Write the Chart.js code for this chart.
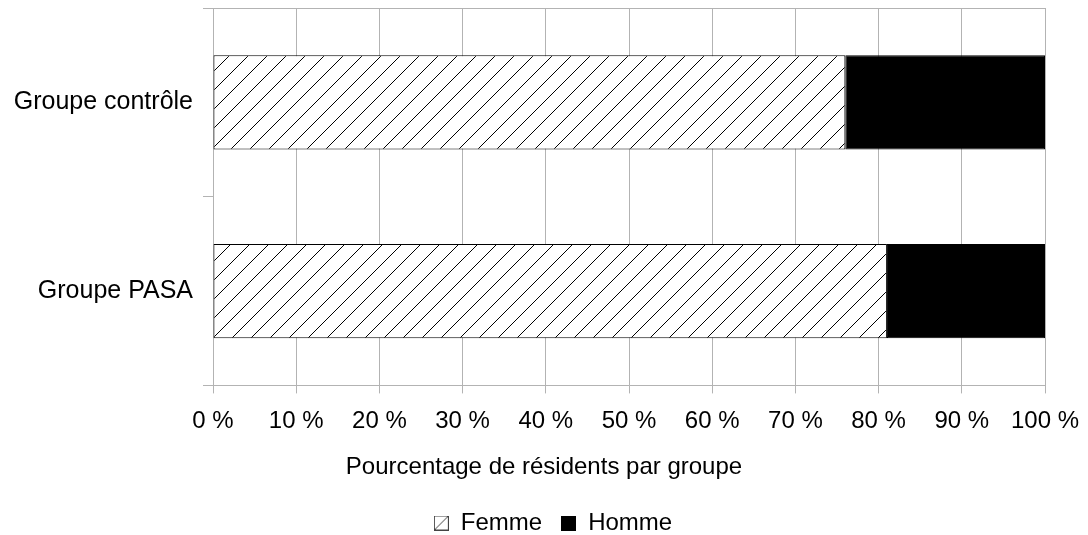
<!DOCTYPE html>
<html>
<head>
<meta charset="utf-8">
<script src="https://cdn.jsdelivr.net/npm/chart.js@4/dist/chart.umd.min.js"></script>
<style>
  html, body { margin: 0; padding: 0; background: #fff; }
  #wrap { width: 1088px; height: 535px; }
</style>
</head>
<body>
<div id="wrap"><canvas id="sexchart"></canvas></div>
<script>
var groups = ["Groupe contrôle", "Groupe PASA"];
var femme = [76, 81];
var homme = [24, 19];
var xTicks = [0, 10, 20, 30, 40, 50, 60, 70, 80, 90, 100];

function hatchPattern(ctx) {
	var c = document.createElement('canvas');
	c.width = 19; c.height = 19;
	var g = c.getContext('2d');
	g.fillStyle = '#fff';
	g.fillRect(0, 0, 19, 19);
	g.strokeStyle = '#000';
	g.lineWidth = 1;
	g.beginPath();
	g.moveTo(0, 19); g.lineTo(19, 0);
	g.moveTo(-2, 2); g.lineTo(2, -2);
	g.moveTo(17, 21); g.lineTo(21, 17);
	g.stroke();
	return ctx.createPattern(c, 'repeat');
}

function legendIcon(hatched) {
	var c = document.createElement('canvas');
	c.width = 15; c.height = 15;
	var g = c.getContext('2d');
	if (hatched) {
		g.fillStyle = '#fff';
		g.fillRect(0, 0, 15, 15);
		g.strokeStyle = '#444';
		g.lineWidth = 1;
		g.strokeRect(0.5, 0.5, 14, 14);
		g.beginPath();
		g.moveTo(1, 14); g.lineTo(14, 1);
		g.stroke();
	} else {
		g.fillStyle = '#000';
		g.fillRect(0, 0, 15, 15);
	}
	return c;
}

// legend sits a bit right of the page centre in the original
var legendShift = {
	id: 'legendShift',
	afterLayout: function(chart) {
		if (chart.legend) {
			chart.legend.left += 9;
			chart.legend.right += 9;
		}
	}
};

var ctx = document.getElementById('sexchart').getContext('2d');
var icons = [legendIcon(true), legendIcon(false)];

var config = {
	type: 'bar',
	data: {
		labels: groups,
		datasets: [
			{
				label: 'Femme',
				data: femme,
				backgroundColor: hatchPattern(ctx),
				borderColor: '#000',
				borderWidth: 1,
				borderSkipped: false
			},
			{
				label: 'Homme',
				data: homme,
				backgroundColor: '#000',
				borderColor: '#000',
				borderWidth: 1,
				borderSkipped: false
			}
		]
	},
	options: {
		indexAxis: 'y',
		responsive: true,
		maintainAspectRatio: false,
		animation: false,
		layout: {
			padding: { top: 8, right: 0, bottom: -10, left: 0 }
		},
		datasets: {
			bar: { barPercentage: 0.5, categoryPercentage: 1 }
		},
		scales: {
			x: {
				stacked: true,
				min: 0,
				max: 100,
				afterBuildTicks: function(scale) {
					scale.ticks = xTicks.map(function(v) { return { value: v }; });
				},
				afterFit: function(scale) { scale.paddingRight = 43; },
				ticks: {
					color: '#000',
					font: { family: 'Liberation Sans', size: 24 },
					padding: 14,
					maxRotation: 0,
					callback: function(v) { return v + ' %'; }
				},
				grid: { color: '#b3b3b3', tickLength: 8 },
				border: { color: '#b3b3b3' }
			},
			y: {
				stacked: true,
				afterFit: function(scale) {
					scale.width = 213;
					scale.paddingTop = 0;
					scale.paddingBottom = 0;
				},
				ticks: {
					color: '#000',
					font: { family: 'Liberation Sans', size: 25 },
					padding: 10
				},
				grid: {
					color: function(c) { return c.index === 1 ? 'rgba(0,0,0,0)' : '#b3b3b3'; },
					tickColor: '#b3b3b3',
					tickLength: 10
				},
				border: { color: '#b3b3b3' }
			}
		},
		plugins: {
			title: {
				display: true,
				position: 'bottom',
				weight: 500,
				text: 'Pourcentage de résidents par groupe',
				color: '#000',
				font: { family: 'Liberation Sans', size: 24, weight: 'normal' },
				padding: { top: 3, bottom: 10 }
			},
			legend: {
				position: 'bottom',
				weight: 1000,
				labels: {
					color: '#000',
					font: { family: 'Liberation Sans', size: 24 },
					usePointStyle: true,
					boxWidth: 15,
					boxHeight: 15,
					padding: 19,
					generateLabels: function(chart) {
						return chart.data.datasets.map(function(ds, i) {
							return {
								text: ds.label,
								pointStyle: icons[i],
								fillStyle: i === 0 ? '#fff' : '#000',
								strokeStyle: '#000',
								lineWidth: 0,
								hidden: false,
								datasetIndex: i
							};
						});
					}
				}
			},
			tooltip: { enabled: false }
		}
	},
	plugins: [legendShift]
};

window.onload = function() {
	window.mychart = new Chart(ctx, config);
};
</script>
</body>
</html>
